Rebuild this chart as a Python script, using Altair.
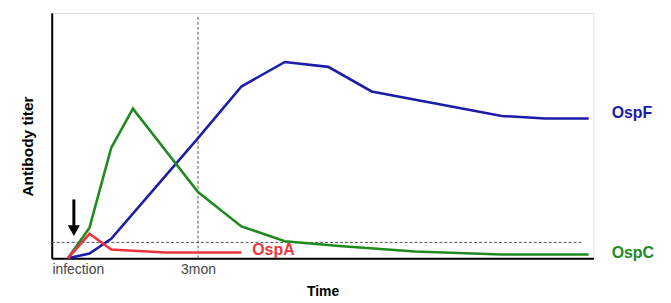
import altair as alt
import pandas as pd

# Series values (x in months after infection, y in arbitrary titer units 0-100)
ospf_x = [0, 0.5, 1, 3, 4, 5, 6, 7, 10, 11, 12]
ospf_y = [0, 2, 8, 49, 70, 80, 78, 68, 58, 57, 57]
ospc_x = [0, 0.5, 1, 1.5, 3, 4, 5, 6.25, 8, 10, 12]
ospc_y = [0, 12.5, 45, 61, 27, 13, 7, 5, 2.8, 1.6, 1.6]
ospa_x = [0, 0.5, 1, 2.25, 4]
ospa_y = [0, 10, 3.6, 2.4, 2.4]

series_names = ["OspF", "OspC", "OspA"]
series_colors = ["#1c1caa", "#1f8a1f", "#e8363c"]

# Label placement values
label_x = [12.53, 12.53, 4.25]
label_y = [59, 2.2, 3.3]

tick_values = [0.23, 3]
tick_labels = ["infection", "3mon"]

threshold_y = 6.5
threshold_x = [-0.37, 11.86]
three_month_x = 3
three_month_top = 98.4
arrow_x = 0.14
arrow_top = 24
arrow_shaft_end = 13
arrow_head = 11.3

x_domain = [-0.37, 12.11]
y_domain = [0, 100]

FONT = "Liberation Sans"

rows = []
for name, xs, ys in [("OspF", ospf_x, ospf_y), ("OspC", ospc_x, ospc_y), ("OspA", ospa_x, ospa_y)]:
    for xv, yv in zip(xs, ys):
        rows.append({"series": name, "t": xv, "v": yv})
df = pd.DataFrame(rows)

xs = alt.Scale(domain=x_domain, nice=False, zero=False)
ys = alt.Scale(domain=y_domain, nice=False)
color_scale = alt.Scale(domain=series_names, range=series_colors)

lbl_map = "{" + ",".join(f"'{v}':'{l}'" for v, l in zip(tick_values, tick_labels)) + "}"

lines = alt.Chart(df).mark_line(strokeWidth=2.6).encode(
    x=alt.X("t:Q", scale=xs,
            axis=alt.Axis(values=tick_values, labelExpr=f"{lbl_map}[datum.value]",
                          ticks=False, grid=False, domainColor="black", domainWidth=2,
                          labelFont=FONT, labelFontSize=14, labelColor="#444",
                          labelPadding=4, title="Time", titleFont=FONT,
                          titleFontSize=14, titleFontWeight="bold", titleColor="black",
                          titlePadding=8)),
    y=alt.Y("v:Q", scale=ys,
            axis=alt.Axis(labels=False, ticks=False, grid=False, domainColor="black",
                          domainWidth=2, title="Antibody titer", titleFont=FONT,
                          titleFontSize=15.5, titleFontWeight="bold", titleColor="black",
                          titleX=-24, titleY=134, titleAngle=270, titleAlign="center",
                          titleBaseline="middle")),
    color=alt.Color("series:N", scale=color_scale, legend=None),
    detail="series:N",
)

vline = alt.Chart(pd.DataFrame({"t": [three_month_x], "v0": [0], "v1": [three_month_top]})).mark_rule(
    strokeDash=[3, 2], color="#555", strokeWidth=1
).encode(x=alt.X("t:Q", scale=xs), y=alt.Y("v0:Q", scale=ys), y2="v1:Q")

hline = alt.Chart(pd.DataFrame({"t0": [threshold_x[0]], "t1": [threshold_x[1]], "v": [threshold_y]})).mark_rule(
    strokeDash=[3, 2], color="#555", strokeWidth=1
).encode(x=alt.X("t0:Q", scale=xs), x2="t1:Q", y=alt.Y("v:Q", scale=ys))

arrow_shaft = alt.Chart(pd.DataFrame({"t": [arrow_x], "v0": [arrow_top], "v1": [arrow_shaft_end]})).mark_rule(
    color="black", strokeWidth=3
).encode(x=alt.X("t:Q", scale=xs), y=alt.Y("v0:Q", scale=ys), y2="v1:Q")

arrow_tip = alt.Chart(pd.DataFrame({"t": [arrow_x], "v": [arrow_head]})).mark_point(
    shape="triangle-down", filled=True, color="black", size=150, opacity=1
).encode(x=alt.X("t:Q", scale=xs), y=alt.Y("v:Q", scale=ys))

labels_df = pd.DataFrame({"series": series_names, "t": label_x, "v": label_y})
labels = alt.Chart(labels_df).mark_text(
    align="left", baseline="middle", font=FONT, fontSize=16, fontWeight="bold"
).encode(
    x=alt.X("t:Q", scale=xs), y=alt.Y("v:Q", scale=ys), text="series:N",
    color=alt.Color("series:N", scale=color_scale, legend=None),
)

chart = alt.layer(vline, hline, lines, arrow_shaft, arrow_tip, labels).properties(
    width=545, height=247,
    autosize=alt.AutoSizeParams(type="none"),
    padding={"left": 44, "top": 4, "right": 70, "bottom": 40},
).configure_view(stroke=None).configure(background="white")

chart.save("out.html", embed_options={"renderer": "svg", "actions": False})
